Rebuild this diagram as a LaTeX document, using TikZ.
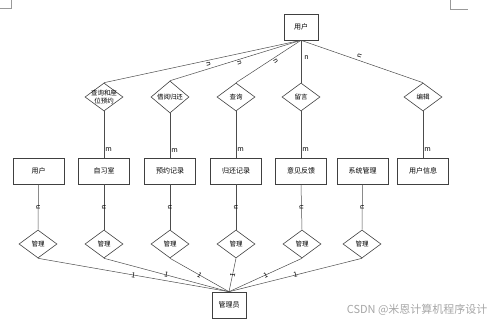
\documentclass[tikz,border=0pt]{standalone}
\usepackage{fontspec}
\setmainfont{Noto Sans CJK SC}
\usepackage{tikz}
\usetikzlibrary{
	arrows.meta,
	positioning,
	calc,
	shapes.geometric
}
\usepackage{xcolor}

\begin{document}
\begin{tikzpicture}[>=Stealth,x=1pt,y=-1pt,
	ent/.style={draw=black!75,line width=0.6pt,minimum width=51pt,minimum height=26pt,inner sep=1pt,font=\fontsize{7}{8}\selectfont},
	rel/.style={draw=black!75,line width=0.6pt,diamond,minimum width=38pt,minimum height=28pt,inner sep=0pt,font=\fontsize{6.5}{7.5}\selectfont},
	lnk/.style={draw=black!70,line width=0.5pt},
	card/.style={font=\fontsize{7}{8}\selectfont,inner sep=1pt}]
			
			\useasboundingbox (0,0) rectangle (499,322);
			
			\draw[black!40](0,8)--(11,8)--(11,0);
			\draw[black!40](450,0)--(450,9)--(468,9);
			
			\node[ent,minimum width=34pt] (yh) at (301,27){用户};
			
			\node[rel,align=center,aspect=1.4,inner sep=-4pt] (r1) at (104,97){查询和座\\位预约};
			\node[rel] (r2) at (170,97){借阅归还};
			\node[rel] (r3) at (236,97){查询};
			\node[rel] (r4) at (301,97){留言};
			\node[rel] (r5) at (423,97){编辑};
			
			\node[ent] (e1) at (38.5,171){用户};
			\node[ent] (e2) at (104,171){自习室};
			\node[ent] (e3) at (170,171){预约记录};
			\node[ent] (e4) at (236,171){归还记录};
			\node[ent] (e5) at (301,171){意见反馈};
			\node[ent] (e6) at (362.5,171){系统管理};
			\node[ent] (e7) at (423,171){用户信息};
			
			\node[rel] (g1) at (38,244){管理};
			\node[rel] (g2) at (104,244){管理};
			\node[rel] (g3) at (170,244){管理};
			\node[rel] (g4) at (236,244){管理};
			\node[rel] (g5) at (302,244){管理};
			\node[rel] (g6) at (362,244){管理};
			
			\node[ent,minimum width=34pt] (gly) at (229,305){管理员};
			
			\draw[lnk](yh.south)--node[card,pos=0.47,yshift=-4pt,rotate=-78]{n}(r1.north);
			\draw[lnk](yh.south)--node[card,pos=0.47,yshift=-4pt,rotate=-72]{n}(r2.north);
			\draw[lnk](yh.south)--node[card,pos=0.42,xshift=2pt,yshift=-3pt,rotate=-56]{n}(r3.north);
			\draw[lnk](yh.south)--node[card,pos=0.4,right=2pt]{n}(r4.north);
			\draw[lnk](yh.south)--node[card,pos=0.48,yshift=5pt,rotate=71]{n}(r5.north);
			
			\draw[lnk](r1.south)--node[card,pos=0.83,right]{m}(e2.north);
			\draw[lnk](r2.south)--node[card,pos=0.83,right]{m}(e3.north);
			\draw[lnk](r3.south)--node[card,pos=0.83,right]{m}(e4.north);
			\draw[lnk](r4.south)--node[card,pos=0.83,right]{m}(e5.north);
			\draw[lnk](r5.south)--node[card,pos=0.83,right]{m}(e7.north);
			
			\draw[lnk](e1.south)--node[card,rotate=90]{n}(g1.north);
			\draw[lnk](e2.south)--node[card,rotate=90]{n}(g2.north);
			\draw[lnk](e3.south)--node[card,rotate=90]{n}(g3.north);
			\draw[lnk](e4.south)--node[card,rotate=90]{n}(g4.north);
			\draw[lnk](e5.south)--node[card,rotate=90]{n}(g5.north);
			\draw[lnk](e6.south)--node[card,rotate=90]{n}(g6.north);
			
			\draw[lnk](g1.south)--node[card,sloped]{1}(gly.north);
			\draw[lnk](g2.south)--node[card,sloped]{1}(gly.north);
			\draw[lnk](g3.south)--node[card,sloped]{1}(gly.north);
			\draw[lnk](g4.south)--node[card,sloped]{1}(gly.north);
			\draw[lnk](g5.south)--node[card,sloped]{1}(gly.north);
			\draw[lnk](g6.south)--node[card,sloped]{1}(gly.north);
			
			\node[text=black!35,font=\fontsize{11}{12}\selectfont,anchor=east] (wm) at (491,310){CSDN @米恩计算机程序设计};
			
		\end{tikzpicture}
\end{document}
